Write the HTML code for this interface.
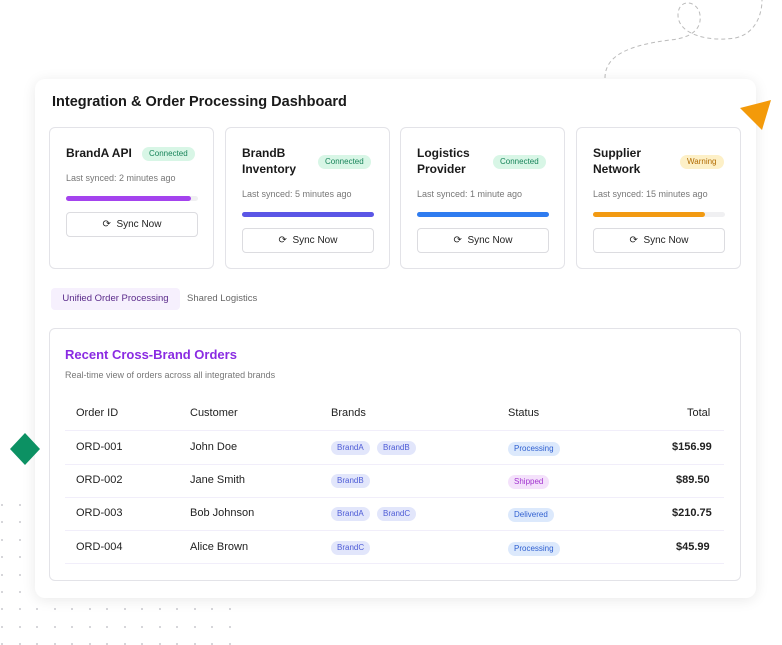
<!DOCTYPE html>
<html><head><meta charset="utf-8"><style>
*{box-sizing:border-box;margin:0;padding:0}
body{width:782px;height:645px;background:#fff;font-family:"Liberation Sans",sans-serif;position:relative;overflow:hidden;color:#111}
.abs{position:absolute}
.card{position:absolute;left:35px;top:79px;width:721px;height:519px;background:#fff;border-radius:10px;box-shadow:0 2px 14px rgba(0,0,0,.09)}
.ic{position:absolute;top:127px;width:165px;height:142px;border:1px solid #e3e3e8;border-radius:6px;background:#fff}
.ic .t{position:absolute;left:16px;font-size:12px;font-weight:bold;color:#1a1a1a;line-height:16px}
.badge{position:absolute;font-size:8px;border-radius:8px;padding:2px 7px;line-height:10px}
.ok{background:#d8f6e6;color:#18845a}
.warn{background:#fdf0c7;color:#b26b00}
.ls{position:absolute;left:16px;font-size:9px;color:#777}
.bar{position:absolute;left:16px;width:132px;height:5px;border-radius:3px;background:#f0f0f2}
.bar i{display:block;height:5px;border-radius:3px}
.btn{position:absolute;left:16px;width:132px;height:25px;border:1px solid #dcdce0;border-radius:4px;font-size:10px;text-align:center;line-height:23px;color:#222}
.oc{position:absolute;left:49px;top:328px;width:692px;height:253px;border:1px solid #e3e3e8;border-radius:6px;background:#fff}
.row{position:absolute;left:65px;width:659px;height:1px;background:#f1eefa}
.c{position:absolute;font-size:11px;color:#222}
.p{position:absolute;font-size:8px;border-radius:7px;padding:2px 6px;line-height:10px}
.br{background:#e2e6fb;color:#4d5bd6}
.pr{background:#dce9fc;color:#2f5fd0}
.sh{background:#f4e1fb;color:#a133cf}
.dot{position:absolute;width:2px;height:2px;border-radius:1px;background:#c9c9cf}
</style></head><body>
<div id="dots"></div>
<svg class="abs" style="left:590px;top:0" width="192" height="90"><path d="M15 78 C15 55 40 45 80 40 C100 38 112 30 110 15 C108 0 88 -2 88 15 C88 35 120 42 145 38 C165 34 172 15 172 0" fill="none" stroke="#bbb" stroke-width="1" stroke-dasharray="4 3"/></svg>
<div class="card"></div>
<div class="abs" style="left:52px;top:94px;font-size:14.5px;font-weight:bold;color:#1a1a1a">Integration &amp; Order Processing Dashboard</div>
<svg class="abs" style="left:740px;top:98px" width="32" height="34"><polygon points="0,10 31,2 22,32" fill="#f39a0a"/></svg>
<svg class="abs" style="left:9px;top:433px" width="33" height="33"><polygon points="16,0 31,16 16,32 1,16" fill="#0c9163"/></svg>

<div class="ic" style="left:49px"><div class="t" style="top:17px">BrandA API</div><div class="badge ok" style="left:92px;top:19px">Connected</div><div class="ls" style="top:45px">Last synced: 2 minutes ago</div><div class="bar" style="top:68px"><i style="width:95%;background:#a443ee"></i></div><div class="btn" style="top:84px">⟳&nbsp;&nbsp;Sync Now</div></div>
<div class="ic" style="left:225px"><div class="t" style="top:17px">BrandB<br>Inventory</div><div class="badge ok" style="left:92px;top:27px">Connected</div><div class="ls" style="top:61px">Last synced: 5 minutes ago</div><div class="bar" style="top:84px"><i style="width:100%;background:#5b56e6"></i></div><div class="btn" style="top:100px">⟳&nbsp;&nbsp;Sync Now</div></div>
<div class="ic" style="left:400px"><div class="t" style="top:17px">Logistics<br>Provider</div><div class="badge ok" style="left:92px;top:27px">Connected</div><div class="ls" style="top:61px">Last synced: 1 minute ago</div><div class="bar" style="top:84px"><i style="width:100%;background:#2f7cf0"></i></div><div class="btn" style="top:100px">⟳&nbsp;&nbsp;Sync Now</div></div>
<div class="ic" style="left:576px"><div class="t" style="top:17px">Supplier<br>Network</div><div class="badge warn" style="left:103px;top:27px">Warning</div><div class="ls" style="top:61px">Last synced: 15 minutes ago</div><div class="bar" style="top:84px"><i style="width:85%;background:#f29a12"></i></div><div class="btn" style="top:100px">⟳&nbsp;&nbsp;Sync Now</div></div>

<div class="abs" style="left:51px;top:288px;width:129px;height:22px;background:#f6f0fd;border-radius:4px;font-size:9.5px;color:#5a2a8a;text-align:center;line-height:22px">Unified Order Processing</div>
<div class="abs" style="left:187px;top:293px;font-size:9.5px;color:#666">Shared Logistics</div>

<div class="oc"></div>
<div class="abs" style="left:65px;top:347px;font-size:13px;font-weight:bold;color:#8a2be2">Recent Cross-Brand Orders</div>
<div class="abs" style="left:65px;top:370px;font-size:9px;color:#777">Real-time view of orders across all integrated brands</div>

<div class="c" style="left:76px;top:407px">Order ID</div><div class="c" style="left:190px;top:407px">Customer</div><div class="c" style="left:331px;top:407px">Brands</div><div class="c" style="left:508px;top:407px">Status</div><div class="c" style="left:687px;top:407px">Total</div>
<div class="row" style="top:430px"></div>
<div class="c" style="left:76px;top:441px">ORD-001</div><div class="c" style="left:190px;top:441px">John Doe</div><span class="p br" style="left:331px;top:441px">BrandA</span><span class="p br" style="left:377px;top:441px">BrandB</span><span class="p pr" style="left:508px;top:442px">Processing</span><div class="c" style="left:672px;top:441px;font-weight:bold">$156.99</div>
<div class="row" style="top:464px"></div>
<div class="c" style="left:76px;top:474px">ORD-002</div><div class="c" style="left:190px;top:474px">Jane Smith</div><span class="p br" style="left:331px;top:474px">BrandB</span><span class="p sh" style="left:508px;top:475px">Shipped</span><div class="c" style="left:676px;top:474px;font-weight:bold">$89.50</div>
<div class="row" style="top:497px"></div>
<div class="c" style="left:76px;top:507px">ORD-003</div><div class="c" style="left:190px;top:507px">Bob Johnson</div><span class="p br" style="left:331px;top:507px">BrandA</span><span class="p br" style="left:377px;top:507px">BrandC</span><span class="p pr" style="left:508px;top:508px">Delivered</span><div class="c" style="left:672px;top:507px;font-weight:bold">$210.75</div>
<div class="row" style="top:530px"></div>
<div class="c" style="left:76px;top:541px">ORD-004</div><div class="c" style="left:190px;top:541px">Alice Brown</div><span class="p br" style="left:331px;top:541px">BrandC</span><span class="p pr" style="left:508px;top:542px">Processing</span><div class="c" style="left:676px;top:541px;font-weight:bold">$45.99</div>
<div class="row" style="top:563px"></div>
<script>
var d=document.getElementById('dots'),h='';
for(var r=0;r<9;r++)for(var c=0;c<14;c++){h+='<div class="dot" style="left:'+(1+c*17.5)+'px;top:'+(504+r*17.4)+'px"></div>';}
d.innerHTML=h;
</script>
</body></html>
